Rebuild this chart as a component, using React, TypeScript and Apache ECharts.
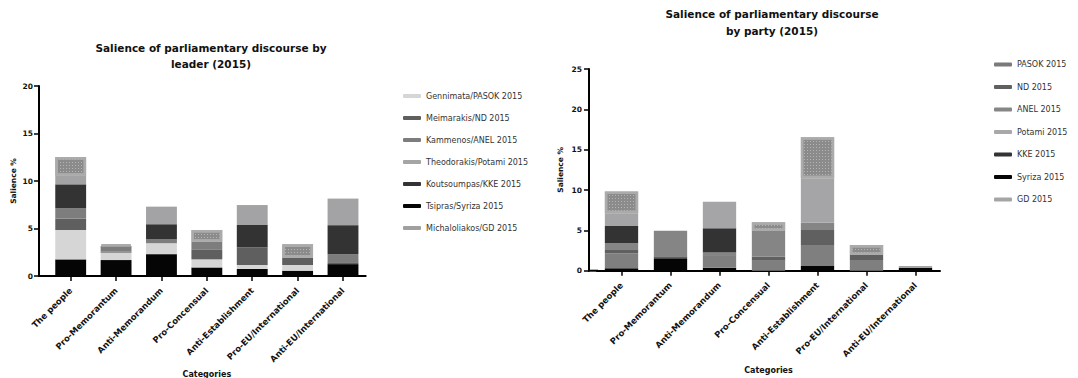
import React, { useEffect, useRef } from 'react';
import * as echarts from 'echarts';

const categories = [
  'The people',
  'Pro-Memorantum',
  'Anti-Memorandum',
  'Pro-Concensual',
  'Anti-Establishment',
  'Pro-EU/International',
  'Anti-EU/International',
];

// ---- By leader (2015), stacking order bottom -> top
const leaderSyriza = [1.75, 1.68, 2.3, 0.9, 0.74, 0.56, 1.25];
const leaderPasok = [3.09, 0.78, 1.15, 0.85, 0.42, 0.6, 0];
const leaderNd = [1.2, 0.1, 0, 1.0, 1.86, 0.77, 0.2];
const leaderAnel = [1.08, 0.6, 0.4, 0.85, 0, 0, 0.85];
const leaderKke = [2.53, 0, 1.6, 0, 2.35, 0, 3.05];
const leaderGd = [0.91, 0, 1.85, 0, 2.1, 0, 2.8];
const leaderPotami = [1.97, 0.17, 0, 1.25, 0, 1.4, 0];

// ---- By party (2015), stacking order bottom -> top
const partySyriza = [0.29, 1.55, 0.37, 0, 0.58, 0, 0.35];
const partyPasok = [1.86, 0, 1.45, 1.24, 2.6, 1.33, 0];
const partyNd = [0.5, 0.25, 0.1, 0.5, 1.86, 0.62, 0];
const partyAnel = [0.75, 3.15, 0.35, 3.18, 0.91, 0, 0];
const partyKke = [2.15, 0, 2.98, 0, 0, 0, 0];
const partyGd = [1.56, 0, 3.3, 0, 5.5, 0, 0.23];
const partyPotami = [2.7, 0, 0, 1.08, 5.1, 1.23, 0];

const leaderLegend = [
  'Gennimata/PASOK 2015',
  'Meimarakis/ND 2015',
  'Kammenos/ANEL 2015',
  'Theodorakis/Potami 2015',
  'Koutsoumpas/KKE 2015',
  'Tsipras/Syriza 2015',
  'Michaloliakos/GD 2015',
];
const partyLegend = ['PASOK 2015', 'ND 2015', 'ANEL 2015', 'Potami 2015', 'KKE 2015', 'Syriza 2015', 'GD 2015'];

const leaderTicks = [0, 5, 10, 15, 20];
const partyTicks = [0, 5, 10, 15, 20, 25];

const FONT = 'DejaVu Sans';

export default function App() {
  const ref = useRef<HTMLDivElement>(null);
  useEffect(() => {
    document.body.style.margin = '0';
    const chart = echarts.init(ref.current!, null, { renderer: 'svg' });

    const potamiStyle = {
      color: '#8b8b8b',
      borderColor: '#ababab',
      borderWidth: 2.5,
      decal: {
        symbol: 'rect',
        symbolSize: 1,
        color: '#b4b4b4',
        backgroundColor: '#8b8b8b',
        dashArrayX: [1, 2],
        dashArrayY: [1, 2],
      },
    };

    const mk = (name: string, data: number[], idx: number, style: any) => ({
      type: 'bar',
      name,
      xAxisIndex: idx,
      yAxisIndex: idx,
      stack: 's' + idx,
      barWidth: '68%',
      data: data.map((v) => (v === 0 ? '-' : v)),
      itemStyle: style,
    });

    const series = [
      mk('Tsipras/Syriza 2015', leaderSyriza, 0, { color: '#050505' }),
      mk('Gennimata/PASOK 2015', leaderPasok, 0, { color: '#d6d6d6' }),
      mk('Meimarakis/ND 2015', leaderNd, 0, { color: '#5f5f5f' }),
      mk('Kammenos/ANEL 2015', leaderAnel, 0, { color: '#7d7d7d' }),
      mk('Koutsoumpas/KKE 2015', leaderKke, 0, { color: '#333333' }),
      mk('Michaloliakos/GD 2015', leaderGd, 0, { color: '#a3a3a5' }),
      mk('Theodorakis/Potami 2015', leaderPotami, 0, potamiStyle),
      mk('Syriza 2015', partySyriza, 1, { color: '#050505' }),
      mk('PASOK 2015', partyPasok, 1, { color: '#7f7f7f' }),
      mk('ND 2015', partyNd, 1, { color: '#606060' }),
      mk('ANEL 2015', partyAnel, 1, { color: '#858585' }),
      mk('KKE 2015', partyKke, 1, { color: '#333333' }),
      mk('GD 2015', partyGd, 1, { color: '#a5a5a8' }),
      mk('Potami 2015', partyPotami, 1, potamiStyle),
    ];

    const legendText = { fontFamily: FONT, fontSize: 8, color: '#333' };
    const legendItem = (name: string, color: string) => ({
      name,
      itemStyle: { color, borderWidth: 0, decal: 'none' },
    });
    const leaderLegendColors = ['#d6d6d6', '#5f5f5f', '#7d7d7d', '#a5a5a5', '#333333', '#050505', '#a0a0a0'];
    const partyLegendColors = ['#7a7a7a', '#606060', '#868686', '#a8a8a8', '#333333', '#050505', '#a5a5a5'];

    const xAxisBase = (gridIndex: number, nameGap: number) => ({
      type: 'category',
      gridIndex,
      data: categories,
      axisLine: { show: true, lineStyle: { color: '#000', width: 2 } },
      axisTick: { show: true, alignWithLabel: true, interval: 0, length: 5, lineStyle: { color: '#000', width: 1.5 } },
      axisLabel: {
        interval: 0,
        rotate: 45,
        margin: 13,
        fontFamily: FONT,
        fontSize: 8.5,
        fontWeight: 'bold',
        color: '#111',
      },
      name: 'Categories',
      nameLocation: 'middle',
      nameGap,
      nameTextStyle: { fontFamily: FONT, fontSize: 8, fontWeight: 'bold', color: '#111' },
    });

    const yAxisBase = (gridIndex: number, ticks: number[], offset: number, nameGap: number, margin: number) => ({
      type: 'value',
      gridIndex,
      min: ticks[0],
      max: ticks[ticks.length - 1],
      interval: ticks[1] - ticks[0],
      offset,
      splitLine: { show: false },
      axisLine: { show: true, lineStyle: { color: '#000', width: 2 } },
      axisTick: { show: true, length: 5, lineStyle: { color: '#000', width: 1.5 } },
      axisLabel: { margin, fontFamily: FONT, fontSize: 7.5, fontWeight: 'bold', color: '#111' },
      name: 'Salience %',
      nameLocation: 'middle',
      nameRotate: 90,
      nameGap,
      nameTextStyle: { fontFamily: FONT, fontSize: 7.5, fontWeight: 'bold', color: '#111' },
    });

    const option: any = {
      animation: false,
      backgroundColor: '#fff',
      title: [
        {
          text: 'Salience of parliamentary discourse by\nleader (2015)',
          left: 206,
          top: 35,
          textAlign: 'center',
          textStyle: { fontFamily: FONT, fontSize: 10.5, fontWeight: 'bold', color: '#111', lineHeight: 16 },
        },
        {
          text: 'Salience of parliamentary discourse\nby party (2015)',
          left: 767,
          top: 0,
          textAlign: 'center',
          textStyle: { fontFamily: FONT, fontSize: 10.5, fontWeight: 'bold', color: '#111', lineHeight: 17.5 },
        },
      ],
      legend: [
        {
          orient: 'vertical',
          left: 398,
          top: 87,
          itemWidth: 18,
          itemHeight: 4,
          itemGap: 14,
          icon: 'roundRect',
          textStyle: legendText,
          data: leaderLegend.map((n, i) => legendItem(n, leaderLegendColors[i])),
          selectedMode: false,
        },
        {
          orient: 'vertical',
          left: 989,
          top: 55.5,
          itemWidth: 18,
          itemHeight: 4,
          itemGap: 14.5,
          icon: 'roundRect',
          textStyle: legendText,
          data: partyLegend.map((n, i) => legendItem(n, partyLegendColors[i])),
          selectedMode: false,
        },
      ],
      grid: [
        { left: 48, right: 1078 - 365.7, top: 86, bottom: 378 - 276, outerBoundsMode: 'none', containLabel: false },
        { left: 597, right: 1078 - 940, top: 69, bottom: 378 - 270.7, outerBoundsMode: 'none', containLabel: false },
      ],
      xAxis: [xAxisBase(0, 87), xAxisBase(1, 95.5)],
      yAxis: [yAxisBase(0, leaderTicks, 9, 22, 6), yAxisBase(1, partyTicks, 8, 25, 7)],
      graphic: [
        { type: 'line', shape: { x1: 38, y1: 276, x2: 49, y2: 276 }, style: { stroke: '#000', lineWidth: 2 } },
        { type: 'line', shape: { x1: 588, y1: 270.7, x2: 598, y2: 270.7 }, style: { stroke: '#000', lineWidth: 2 } },
      ],
      series,
    };

    chart.setOption(option);
    return () => chart.dispose();
  }, []);
  return <div ref={ref} style={{ width: 1078, height: 378 }} />;
}
